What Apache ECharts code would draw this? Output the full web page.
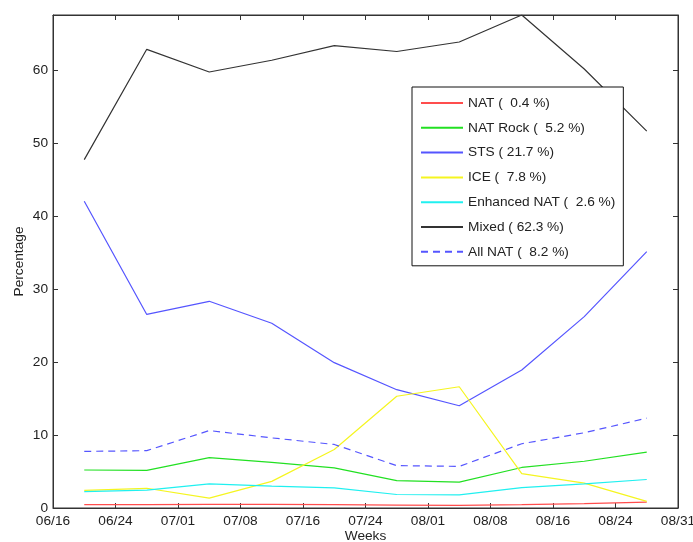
<!DOCTYPE html>
<html>
<head>
<meta charset="utf-8">
<script src="https://cdn.jsdelivr.net/npm/echarts@6/dist/echarts.min.js"></script>
<style>html,body{margin:0;padding:0;background:#fff}#c{width:693px;height:542px}</style>
</head>
<body>
<div id="c"></div>
<script>
// x positions of weekly points, in days after 06/16
var weekDays = [3.8, 11.4, 19.0, 26.6, 34.2, 41.8, 49.4, 57.0, 64.6, 72.2];
var xTickLabels = ['06/16','06/24','07/01','07/08','07/16','07/24','08/01','08/08','08/16','08/24','08/31'];
var seriesNames = ['NAT (  0.4 %)','NAT Rock (  5.2 %)','STS ( 21.7 %)','ICE (  7.8 %)','Enhanced NAT (  2.6 %)','Mixed ( 62.3 %)','All NAT (  8.2 %)'];
var natVals      = [0.45, 0.45, 0.5, 0.5, 0.45, 0.4, 0.35, 0.45, 0.6, 0.8];
var natRockVals  = [5.2, 5.15, 6.9, 6.25, 5.5, 3.75, 3.55, 5.55, 6.4, 7.65];
var stsVals      = [42.0, 26.5, 28.3, 25.3, 19.9, 16.2, 14.0, 18.9, 26.2, 35.1];
var iceVals      = [2.4, 2.7, 1.35, 3.65, 8.0, 15.3, 16.6, 4.7, 3.4, 0.9];
var enhancedVals = [2.25, 2.45, 3.3, 3.0, 2.75, 1.85, 1.8, 2.8, 3.3, 3.9];
var mixedVals    = [47.7, 62.8, 59.7, 61.3, 63.3, 62.5, 63.8, 67.5, 60.1, 51.6];
var allNatVals   = [7.75, 7.85, 10.6, 9.6, 8.7, 5.8, 5.7, 8.8, 10.3, 12.3];

var colors = ['#ff4d4d','#22e022','#5555ff','#f5f520','#20f0f0','#333333','#5555ff'];
var valueSets = [natVals, natRockVals, stsVals, iceVals, enhancedVals, mixedVals, allNatVals];

function pairs(vals){ return vals.map(function(v,i){ return [weekDays[i], v]; }); }

var font = 'Liberation Sans, Arial, Helvetica, sans-serif';
var txt = '#222';
var series = valueSets.map(function(vals, i){
  return {
    name: seriesNames[i],
    type: 'line',
    data: pairs(vals),
    symbol: 'none',
    color: colors[i],
    lineStyle: { color: colors[i], width: 1.2, type: i === 6 ? [7, 5] : 'solid' }
  };
});

var tickStyle = { show: true, inside: true, length: 5, lineStyle: { color: '#333', width: 1 } };
var lineSty = { show: true, onZero: false, lineStyle: { color: '#333', width: 1 } };
var chart = echarts.init(document.getElementById('c'));
chart.setOption({
  animation: false,
  grid: { left: 53, right: 15, top: 15, bottom: 34, show: true, borderColor: '#333', borderWidth: 1,
          outerBoundsMode: 'none', containLabel: false },
  legend: {
    show: true,
    orient: 'vertical',
    left: 412, top: 87,
    backgroundColor: '#fff',
    borderColor: '#111', borderWidth: 1,
    padding: [9, 8, 7, 8],
    itemWidth: 42, itemHeight: 14, itemGap: 10.8,
    itemStyle: { opacity: 0 },
    textStyle: { fontFamily: font, fontSize: 13.7, color: txt },
    data: seriesNames,
    selectedMode: false,
    z: 10
  },
  xAxis: [{
      type: 'value', min: 0, max: 76, interval: 7.6,
      position: 'bottom',
      name: 'Weeks', nameLocation: 'middle', nameGap: 21, nameMoveOverlap: false,
      nameTextStyle: { fontFamily: font, fontSize: 13.7, color: txt },
      axisLine: lineSty,
      axisTick: tickStyle,
      axisLabel: { fontFamily: font, fontSize: 13.7, color: txt, margin: 6,
        formatter: function(v){ return xTickLabels[Math.round(v / 7.6)]; } },
      splitLine: { show: false }
    }, {
      type: 'value', min: 0, max: 76, interval: 7.6,
      position: 'top',
      axisLine: lineSty,
      axisTick: tickStyle,
      axisLabel: { show: false },
      splitLine: { show: false }
  }],
  yAxis: [{
      type: 'value', min: 0, max: 67.5, interval: 10,
      position: 'left',
      name: 'Percentage', nameLocation: 'middle', nameGap: 27, nameMoveOverlap: false,
      nameTextStyle: { fontFamily: font, fontSize: 13.7, color: txt },
      axisLine: lineSty,
      axisTick: tickStyle,
      axisLabel: { fontFamily: font, fontSize: 13.7, color: txt, margin: 5, showMaxLabel: false },
      splitLine: { show: false }
    }, {
      type: 'value', min: 0, max: 67.5, interval: 10,
      position: 'right',
      axisLine: lineSty,
      axisTick: tickStyle,
      axisLabel: { show: false },
      splitLine: { show: false }
  }],
  series: series
});
</script>
</body>
</html>
